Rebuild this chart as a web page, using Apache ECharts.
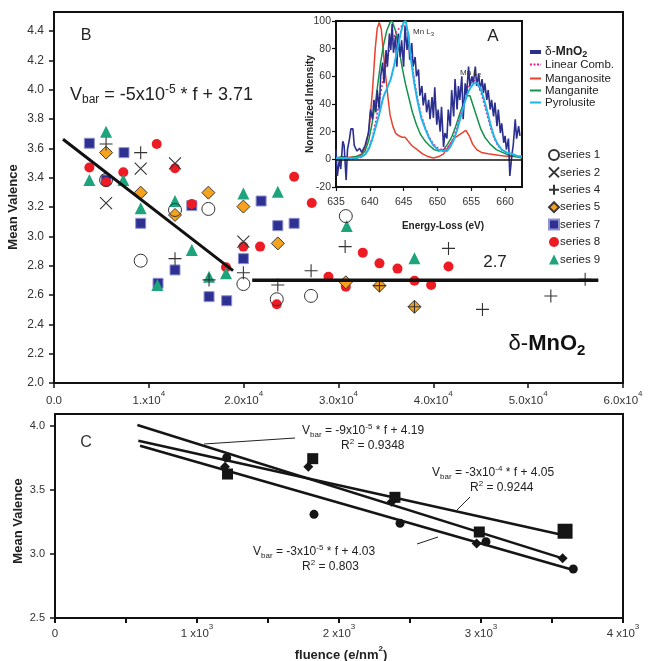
<!DOCTYPE html>
<html>
<head>
<meta charset="utf-8">
<script src="https://cdn.jsdelivr.net/npm/echarts@6/dist/echarts.min.js"></script>
<style>
html,body{margin:0;padding:0;background:#fff;}
#c{width:649px;height:661px;}
</style>
</head>
<body>
<div id="c"></div>
<script>
// ---------- Panel B: mean valence vs fluence ----------
const xTickLabelsB = ['0.0', '1.x10', '2.0x10', '3.0x10', '4.0x10', '5.0x10', '6.0x10'];
const series1 = [[5490, 3.385], [9140, 2.834], [12760, 3.18], [16280, 3.187], [19970, 2.675], [23490, 2.571], [27100, 2.594], [30770, 3.138]];
const series2 = [[5490, 3.227], [9140, 3.462], [12760, 3.498], [19970, 2.964]];
const series4 = [[5490, 3.63], [9140, 3.571], [12760, 2.848], [16350, 2.703], [19970, 2.752], [23600, 2.668], [27110, 2.765], [30700, 2.93], [34320, 2.664], [38010, 2.52], [41600, 2.918], [45180, 2.502], [52390, 2.593], [56010, 2.707]];
const series5 = [[5490, 3.571], [9140, 3.298], [12760, 3.146], [16280, 3.298], [19970, 3.203], [23600, 2.952], [30770, 2.687], [34320, 2.664], [38010, 2.52]];
const series7 = [[3730, 3.635], [7380, 3.571], [5490, 3.385], [9140, 3.089], [10970, 2.68], [12760, 2.771], [14530, 3.21], [16350, 2.589], [18210, 2.561], [19970, 2.848], [21840, 3.241], [23600, 3.073], [25320, 3.089]];
const series8 = [[3730, 3.469], [5490, 3.369], [7310, 3.437], [10830, 3.63], [12760, 3.464], [14530, 3.221], [18140, 2.789], [19970, 2.93], [21730, 2.93], [23490, 2.537], [25320, 3.407], [27180, 3.228], [28940, 2.725], [30770, 2.657], [32560, 2.889], [34320, 2.816], [36220, 2.78], [38010, 2.697], [39770, 2.668], [41600, 2.794]];
const series9 = [[3730, 3.385], [5490, 3.714], [7310, 3.385], [9140, 3.191], [10900, 2.668], [12760, 3.241], [14530, 2.907], [16350, 2.725], [18140, 2.748], [19970, 3.293], [23600, 3.305], [30870, 3.071], [38010, 2.85]];
// Vbar = -5e-5 * f + 3.71 over the early fluence range, then the 2.7 plateau
const fitSlopeB = -5e-5, fitInterceptB = 3.71;
const fitRangeB = [950, 18880];
const plateauB = [[20900, 2.7], [57400, 2.7]];

// ---------- Panel A: EELS Mn L2,3 edges ----------
const spectrumNames = ['δ-MnO2', 'Linear Comb.', 'Manganosite', 'Manganite', 'Pyrolusite'];
const spectrumDelta = [[635.0,7],[635.2,-12],[635.5,0],[635.7,-7],[636.0,13],[636.2,10],[636.5,-15],[636.7,7],[637.0,15],[637.2,22],[637.5,22],[637.7,10],[638.1,6],[638.5,8],[638.8,5],[639.3,10],[639.8,19],[640.1,36],[640.4,29],[640.6,43],[640.9,34],[641.1,50],[641.4,36],[641.6,60],[641.9,70],[642.1,55],[642.4,79],[642.6,67],[642.9,91],[643.1,79],[643.3,98],[643.5,77],[643.8,89],[644.0,67],[644.2,91],[644.5,74],[644.7,86],[645.0,67],[645.2,96],[645.5,79],[645.7,91],[645.9,72],[646.2,84],[646.4,67],[646.7,74],[646.9,60],[647.2,65],[647.4,46],[647.7,53],[647.9,39],[648.2,48],[648.4,34],[648.7,43],[648.9,29],[649.2,45],[649.4,30],[649.6,52],[649.9,25],[650.1,36],[650.4,20],[650.6,38],[650.9,9],[651.1,19],[651.4,15],[651.6,36],[651.9,24],[652.1,50],[652.4,31],[652.6,58],[652.9,36],[653.1,53],[653.3,43],[653.6,60],[653.8,29],[654.1,55],[654.3,46],[654.6,67],[654.8,53],[655.1,60],[655.3,55],[655.6,67],[655.8,53],[656.1,62],[656.3,50],[656.6,58],[656.8,48],[657.0,55],[657.3,43],[657.5,50],[657.8,36],[658.0,43],[658.3,31],[658.5,41],[658.8,24],[659.0,36],[659.3,19],[659.5,26],[659.8,12],[660.0,17],[660.2,7],[660.5,15],[660.7,-12],[661.0,3],[661.2,10],[661.5,29],[661.7,15],[662.0,24],[662.2,17]];
const spectrumLinComb = [[635,0],[637,0],[638.5,1],[639.2,3],[639.8,8],[640.4,16],[640.9,28],[641.4,42],[641.9,56],[642.4,68],[642.9,79],[643.4,87],[643.9,92],[644.4,95],[644.9,97],[645.3,96],[645.7,88],[646.1,74],[646.6,57],[647.1,43],[647.6,32],[648.2,23],[648.8,16],[649.4,11],[650.1,8],[650.8,7],[651.4,8],[651.9,11],[652.4,16],[652.9,24],[653.4,33],[653.9,42],[654.4,50],[654.9,55],[655.4,57],[655.9,55],[656.4,49],[656.9,40],[657.4,31],[657.9,22],[658.4,15],[658.9,10],[659.5,7],[660.2,5],[661,3],[662.5,2]];
const spectrumManganosite = [[635,1],[636,1],[637,1.5],[638,2],[638.8,4],[639.4,9],[639.9,22],[640.4,50],[640.8,80],[641.1,95],[641.4,99],[641.7,94],[642,78],[642.3,62],[642.7,44],[643,32],[643.4,24],[643.8,19],[644.3,17],[644.8,16],[645.2,16],[645.7,13],[646.2,10],[647,7],[647.8,4],[648.6,2],[649.4,1],[650.2,2],[650.9,4],[651.6,9],[652.4,15],[653,17],[653.6,19],[654.2,21],[654.7,17],[655.2,11],[655.8,7],[656.5,5],[657.5,4],[659,3],[660.5,2],[662.5,2]];
const spectrumManganite = [[635,1],[636,2],[637,1],[638,2],[638.7,3],[639.3,6],[639.8,13],[640.3,25],[640.8,40],[641.2,55],[641.6,70],[642,82],[642.5,93],[643,99],[643.3,100],[643.8,93],[644.3,80],[644.8,66],[645.3,54],[645.8,44],[646.3,34],[646.9,25],[647.5,18],[648.2,13],[648.8,10],[649.5,7],[650.2,6],[650.9,7],[651.5,11],[652.1,16],[652.7,24],[653.3,33],[653.9,41],[654.4,46],[654.8,46],[655.2,40],[655.8,31],[656.4,22],[657,16],[657.8,11],[658.7,7],[659.6,5],[660.5,3],[661.5,2],[662.5,1]];
const spectrumPyrolusite = [[635,1],[636,1],[637,1],[638,1],[638.8,2],[639.4,4],[639.9,8],[640.4,15],[640.9,24],[641.4,33],[642,45],[642.6,52],[643.1,58],[643.6,68],[644.1,80],[644.6,92],[645,99],[645.3,100],[645.7,90],[646.1,72],[646.6,54],[647.1,41],[647.6,30],[648.2,22],[648.8,15],[649.4,10],[650.1,7],[650.8,6],[651.4,6],[651.9,9],[652.4,14],[652.9,21],[653.4,30],[653.9,39],[654.4,47],[654.9,52],[655.4,55],[655.9,55],[656.4,51],[656.9,43],[657.4,34],[657.9,24],[658.4,16],[658.9,11],[659.5,7],[660.2,5],[661,4],[662,2],[662.5,2]];

// ---------- Panel C: mean valence vs fluence (three runs) ----------
const cSquares = [[1215, 3.625], [1815, 3.745], [2394, 3.443], [2988, 3.172], [3592, 3.178]];
const cDiamonds = [[1197, 3.682], [1784, 3.682], [2371, 3.409], [2969, 3.083], [3575, 2.966]];
const cCircles = [[1209, 3.752], [1824, 3.31], [2430, 3.24], [3035, 3.096], [3650, 2.883]];
const cFitDiamonds = [[580, 4.008], [3575, 2.966]];
const cFitSquares = [[587, 3.885], [3560, 3.152]];
const cFitCircles = [[599, 3.846], [3650, 2.875]];
const xTickLabelsC = ['0', '1 x10', '2 x10', '3 x10', '4 x10'];

const FONT = '"Liberation Sans", Arial, Helvetica, sans-serif';
const crossPath = 'path://M0,0L10,10M10,0L0,10';
const plusPath = 'path://M5,0L5,10M0,5L10,5';

const COL = {
  delta: '#2b2f8e', lin: '#ec1c8c', mnO: '#e8412c', mnOOH: '#12924a', pyro: '#1fb5ea'
};

function fitLine(slope, icpt, range) {
  return range.map(f => [f, +(slope * f + icpt).toFixed(4)]);
}

function axisBase(extra) {
  return Object.assign({
    type: 'value',
    axisLine: { show: true, onZero: false, lineStyle: { color: '#111', width: 2 } },
    axisTick: { show: true, inside: false, length: 5, lineStyle: { color: '#111', width: 1.5 } },
    splitLine: { show: false }
  }, extra);
}

// spectra key, drawn as short swatches beside the inset
function spectraKey() {
  const rows = [
    { y: 52, color: COL.delta, width: 4, dash: null },
    { y: 64.5, color: COL.lin, width: 2, dash: [2, 1.5] },
    { y: 78.5, color: COL.mnO, width: 2, dash: null },
    { y: 90.5, color: COL.mnOOH, width: 2, dash: null },
    { y: 102.5, color: COL.pyro, width: 2, dash: null }
  ];
  const els = [];
  rows.forEach((r, i) => {
    els.push({ type: 'line', z: 100, shape: { x1: 530, y1: r.y, x2: 541, y2: r.y },
      style: { stroke: r.color, lineWidth: r.width, lineDash: r.dash } });
    const name = spectrumNames[i];
    els.push(i === 0
      ? { type: 'text', z: 100, x: 545, y: r.y,
          style: { text: '{d|δ-}{b|MnO}{s|2}', align: 'left', verticalAlign: 'middle',
            rich: { d: { font: '12px ' + FONT, fill: '#222', lineHeight: 14 },
                    b: { font: 'bold 12px ' + FONT, fill: '#222', lineHeight: 14 },
                    s: { font: 'bold 9px ' + FONT, fill: '#222', lineHeight: 8, verticalAlign: 'bottom' } } } }
      : { type: 'text', z: 100, x: 545, y: r.y,
          style: { text: name, font: '11.5px ' + FONT, fill: '#222', align: 'left', verticalAlign: 'middle' } });
  });
  return els;
}

function eq(x, y, main, sup, tail, withBar) {
  const txt = (withBar ? '{v|V}{sb|bar}' : '{v|R}') + '{v|' + main + '}{sp|' + sup + '}{v|' + tail + '}';
  return { type: 'text', z: 100, x: x, y: y,
    style: { text: txt, align: 'left', verticalAlign: 'middle',
      rich: { v: { font: '12px ' + FONT, fill: '#222', lineHeight: 16 },
              sb: { font: '8px ' + FONT, fill: '#222', lineHeight: 7, verticalAlign: 'bottom' },
              sp: { font: '8px ' + FONT, fill: '#222', lineHeight: 7, verticalAlign: 'top' } } } };
}

const chart = echarts.init(document.getElementById('c'), null, { renderer: 'canvas' });

const option = {
  backgroundColor: '#fff',
  animation: false,
  textStyle: { fontFamily: FONT },
  grid: [
    { left: 54, top: 12, width: 569, height: 371, show: true, borderColor: '#111', borderWidth: 2, backgroundColor: 'rgba(0,0,0,0)' },
    { left: 336, top: 21, width: 186, height: 166, show: true, borderColor: '#111', borderWidth: 2, backgroundColor: '#fff' },
    { left: 55, top: 414, width: 568, height: 204, show: true, borderColor: '#111', borderWidth: 2, backgroundColor: 'rgba(0,0,0,0)' }
  ],
  xAxis: [
    axisBase({
      gridIndex: 0, min: 0, max: 60000, interval: 10000,
      axisLabel: {
        margin: 7, color: '#333', fontFamily: FONT,
        formatter: v => {
          const i = Math.round(v / 10000);
          return i === 0 ? '{m|' + xTickLabelsB[0] + '}' : '{m|' + xTickLabelsB[i] + '}{s|4}';
        },
        rich: {
          m: { fontSize: 11.5, lineHeight: 22, color: '#333', fontFamily: FONT },
          s: { fontSize: 8, lineHeight: 6, verticalAlign: 'top', color: '#333', fontFamily: FONT }
        }
      }
    }),
    axisBase({
      gridIndex: 1, min: 635, max: 662.5, interval: 5,
      axisTick: { show: true, length: 4, lineStyle: { color: '#111', width: 1.2 } },
      axisLabel: { margin: 10, color: '#333', fontSize: 10.5, fontFamily: FONT, showMaxLabel: false }
    }),
    axisBase({
      gridIndex: 2, min: 0, max: 4000, interval: 500,
      axisTick: { show: true, length: 5, interval: 0, lineStyle: { color: '#111', width: 2 } },
      axisLabel: {
        margin: 5, interval: 0, color: '#333', fontFamily: FONT,
        formatter: v => {
          if (v % 1000 !== 0) return '';
          const i = v / 1000;
          return i === 0 ? '{m|' + xTickLabelsC[0] + '}' : '{m|' + xTickLabelsC[i] + '}{s|3}';
        },
        rich: {
          m: { fontSize: 11.5, lineHeight: 22, color: '#333', fontFamily: FONT },
          s: { fontSize: 8, lineHeight: 6, verticalAlign: 'top', color: '#333', fontFamily: FONT }
        }
      }
    })
  ],
  yAxis: [
    axisBase({
      gridIndex: 0, min: 2.0, max: 4.53, interval: 0.2,
      axisLabel: { margin: 10, color: '#333', fontSize: 12, fontFamily: FONT, showMaxLabel: false, formatter: v => v.toFixed(1) }
    }),
    axisBase({
      gridIndex: 1, min: -20, max: 100, interval: 20,
      axisTick: { show: true, length: 4, lineStyle: { color: '#111', width: 1.2 } },
      axisLabel: { margin: 5, color: '#333', fontSize: 10.5, fontFamily: FONT }
    }),
    axisBase({
      gridIndex: 2, min: 2.5, max: 4.094, interval: 0.5,
      axisLabel: { margin: 10, color: '#333', fontSize: 11, fontFamily: FONT, showMaxLabel: false, formatter: v => v.toFixed(1) }
    })
  ],
  legend: [
    {
      data: ['series 1', 'series 2', 'series 4', 'series 5', 'series 7', 'series 8', 'series 9'],
      orient: 'vertical', left: 543, top: 144, itemWidth: 10, itemHeight: 10, itemGap: 5.4,
      selectedMode: false,
      textStyle: { fontSize: 11.5, color: '#222', fontFamily: FONT, padding: [0, 0, 0, -4] }
    }
  ],
  series: [
    // Panel B markers
    { name: 'series 7', type: 'scatter', xAxisIndex: 0, yAxisIndex: 0, data: series7, symbol: 'rect', symbolSize: 10,
      itemStyle: { color: '#2e3192', borderColor: '#8e92cf', borderWidth: 1, opacity: 1 } },
    { name: 'series 8', type: 'scatter', xAxisIndex: 0, yAxisIndex: 0, data: series8, symbol: 'circle', symbolSize: 10,
      itemStyle: { color: '#ed1c24', opacity: 1 } },
    { name: 'series 9', type: 'scatter', xAxisIndex: 0, yAxisIndex: 0, data: series9, symbol: 'triangle', symbolSize: 12,
      itemStyle: { color: '#1ea47c', opacity: 1 } },
    { name: 'series 5', type: 'scatter', xAxisIndex: 0, yAxisIndex: 0, data: series5, symbol: 'diamond', symbolSize: 13,
      itemStyle: { color: '#f6a21d', borderColor: '#3a3a3a', borderWidth: 1, opacity: 1 } },
    { name: 'series 1', type: 'scatter', xAxisIndex: 0, yAxisIndex: 0, data: series1, symbol: 'circle', symbolSize: 13,
      itemStyle: { color: 'rgba(255,255,255,0)', borderColor: '#333', borderWidth: 1, opacity: 1 } },
    { name: 'series 2', type: 'scatter', xAxisIndex: 0, yAxisIndex: 0, data: series2, symbol: crossPath, symbolSize: 12,
      itemStyle: { color: 'rgba(0,0,0,0)', borderColor: '#333', borderWidth: 1.1, opacity: 1 } },
    { name: 'series 4', type: 'scatter', xAxisIndex: 0, yAxisIndex: 0, data: series4, symbol: plusPath, symbolSize: 13,
      itemStyle: { color: 'rgba(0,0,0,0)', borderColor: '#333', borderWidth: 1.1, opacity: 1 } },
    { name: 'fitB', type: 'line', xAxisIndex: 0, yAxisIndex: 0, data: fitLine(fitSlopeB, fitInterceptB, fitRangeB),
      symbol: 'none', lineStyle: { color: '#111', width: 3 }, silent: true, z: 3 },
    { name: 'plateauB', type: 'line', xAxisIndex: 0, yAxisIndex: 0, data: plateauB,
      symbol: 'none', lineStyle: { color: '#111', width: 3.5 }, silent: true, z: 3 },

    // Panel A spectra
    { name: spectrumNames[2], type: 'line', xAxisIndex: 1, yAxisIndex: 1, data: spectrumManganosite, symbol: 'none',
      lineStyle: { color: COL.mnO, width: 1.5 },
      markLine: { silent: true, symbol: ['none', 'none'], label: { show: false },
        lineStyle: { color: '#111', width: 1.5, type: 'solid' }, data: [{ yAxis: 0 }] } },
    { name: spectrumNames[3], type: 'line', xAxisIndex: 1, yAxisIndex: 1, data: spectrumManganite, symbol: 'none',
      lineStyle: { color: COL.mnOOH, width: 1.5 } },
    { name: spectrumNames[1], type: 'line', xAxisIndex: 1, yAxisIndex: 1, data: spectrumLinComb, symbol: 'none',
      lineStyle: { color: COL.lin, width: 1.5, type: [2, 2] } },
    { name: spectrumNames[0], type: 'line', xAxisIndex: 1, yAxisIndex: 1, data: spectrumDelta, symbol: 'none',
      lineStyle: { color: COL.delta, width: 1.6 } },
    { name: spectrumNames[4], type: 'line', xAxisIndex: 1, yAxisIndex: 1, data: spectrumPyrolusite, symbol: 'none',
      lineStyle: { color: COL.pyro, width: 2 } },

    // Panel C
    { name: 'cFitDiamonds', type: 'line', xAxisIndex: 2, yAxisIndex: 2, data: cFitDiamonds, symbol: 'none',
      lineStyle: { color: '#151515', width: 2.5 }, silent: true },
    { name: 'cFitSquares', type: 'line', xAxisIndex: 2, yAxisIndex: 2, data: cFitSquares, symbol: 'none',
      lineStyle: { color: '#151515', width: 2.5 }, silent: true },
    { name: 'cFitCircles', type: 'line', xAxisIndex: 2, yAxisIndex: 2, data: cFitCircles, symbol: 'none',
      lineStyle: { color: '#151515', width: 2.5 }, silent: true },
    { name: 'cSquares', type: 'scatter', xAxisIndex: 2, yAxisIndex: 2, symbol: 'rect',
      data: cSquares.map((p, i) => ({ value: p, symbolSize: i === cSquares.length - 1 ? 15 : 11 })),
      itemStyle: { color: '#151515', opacity: 1 } },
    { name: 'cDiamonds', type: 'scatter', xAxisIndex: 2, yAxisIndex: 2, symbol: 'diamond', symbolSize: 10, data: cDiamonds,
      itemStyle: { color: '#151515', opacity: 1 } },
    { name: 'cCircles', type: 'scatter', xAxisIndex: 2, yAxisIndex: 2, symbol: 'circle', symbolSize: 9, data: cCircles,
      itemStyle: { color: '#151515', opacity: 1 } }
  ],
  graphic: [
    // axis titles
    { type: 'text', z: 100, x: 13, y: 207, rotation: Math.PI / 2,
      style: { text: 'Mean Valence', font: 'bold 13px ' + FONT, fill: '#222', align: 'center', verticalAlign: 'middle' } },
    { type: 'text', z: 100, x: 18, y: 521, rotation: Math.PI / 2,
      style: { text: 'Mean Valence', font: 'bold 13px ' + FONT, fill: '#222', align: 'center', verticalAlign: 'middle' } },
    { type: 'text', z: 100, x: 310, y: 104, rotation: Math.PI / 2,
      style: { text: 'Normalized Intensity', font: 'bold 10px ' + FONT, fill: '#222', align: 'center', verticalAlign: 'middle' } },
    { type: 'text', z: 100, x: 443, y: 226,
      style: { text: 'Energy-Loss (eV)', font: 'bold 10px ' + FONT, fill: '#222', align: 'center', verticalAlign: 'middle' } },
    { type: 'text', z: 100, x: 341, y: 655,
      style: { text: '{b|fluence (e/nm}{s|2}{b|)}', align: 'center', verticalAlign: 'middle',
        rich: { b: { font: 'bold 13px ' + FONT, fill: '#222', lineHeight: 20 },
                s: { font: 'bold 8px ' + FONT, fill: '#222', lineHeight: 8, verticalAlign: 'top' } } } },

    // panel letters
    { type: 'text', z: 100, x: 86, y: 36, style: { text: 'B', font: '16px ' + FONT, fill: '#222', align: 'center', verticalAlign: 'middle' } },
    { type: 'text', z: 100, x: 493, y: 36, style: { text: 'A', font: '17px ' + FONT, fill: '#222', align: 'center', verticalAlign: 'middle' } },
    { type: 'text', z: 100, x: 86, y: 443, style: { text: 'C', font: '16px ' + FONT, fill: '#333', align: 'center', verticalAlign: 'middle' } },

    // panel B annotations
    { type: 'text', z: 100, x: 70, y: 95,
      style: { text: '{v|V}{sb|bar}{v| = -5x10}{sp|-5}{v| * f + 3.71}', align: 'left', verticalAlign: 'middle',
        rich: { v: { font: '18px ' + FONT, fill: '#222', lineHeight: 22 },
                sb: { font: '12px ' + FONT, fill: '#222', lineHeight: 10, verticalAlign: 'bottom' },
                sp: { font: '12px ' + FONT, fill: '#222', lineHeight: 10, verticalAlign: 'top' } } } },
    { type: 'text', z: 100, x: 495, y: 262, style: { text: '2.7', font: '17px ' + FONT, fill: '#222', align: 'center', verticalAlign: 'middle' } },
    { type: 'text', z: 100, x: 547, y: 344,
      style: { text: '{d|δ-}{m|MnO}{s|2}', align: 'center', verticalAlign: 'middle',
        rich: { d: { font: '22px ' + FONT, fill: '#111', lineHeight: 28 },
                m: { font: 'bold 22px ' + FONT, fill: '#111', lineHeight: 28 },
                s: { font: 'bold 15px ' + FONT, fill: '#111', lineHeight: 12, verticalAlign: 'bottom' } } } },

    // panel A peak labels
    { type: 'text', z: 100, x: 413, y: 32,
      style: { text: '{m|Mn L}{s|3}', align: 'left', verticalAlign: 'middle',
        rich: { m: { font: '8px ' + FONT, fill: '#333', lineHeight: 10 }, s: { font: '6px ' + FONT, fill: '#333', lineHeight: 5, verticalAlign: 'bottom' } } } },
    { type: 'text', z: 100, x: 460, y: 73,
      style: { text: '{m|Mn L}{s|2}', align: 'left', verticalAlign: 'middle',
        rich: { m: { font: '8px ' + FONT, fill: '#333', lineHeight: 10 }, s: { font: '6px ' + FONT, fill: '#333', lineHeight: 5, verticalAlign: 'bottom' } } } },

    // panel C equations
    eq(302, 431, ' = -9x10', '-5', ' * f + 4.19', true),
    eq(341, 446, '', '2', ' = 0.9348', false),
    eq(432, 473, ' = -3x10', '-4', ' * f + 4.05', true),
    eq(470, 488, '', '2', ' = 0.9244', false),
    eq(253, 552, ' = -3x10', '-5', ' * f + 4.03', true),
    eq(302, 567, '', '2', ' = 0.803', false),

    // leader lines from equations to their fit lines
    { type: 'line', z: 100, shape: { x1: 204, y1: 444, x2: 295, y2: 438 }, style: { stroke: '#222', lineWidth: 1 } },
    { type: 'line', z: 100, shape: { x1: 457, y1: 510, x2: 470, y2: 497 }, style: { stroke: '#222', lineWidth: 1 } },
    { type: 'line', z: 100, shape: { x1: 417, y1: 544, x2: 438, y2: 537 }, style: { stroke: '#222', lineWidth: 1 } }
  ].concat(spectraKey())
};

chart.setOption(option);
</script>
</body>
</html>
